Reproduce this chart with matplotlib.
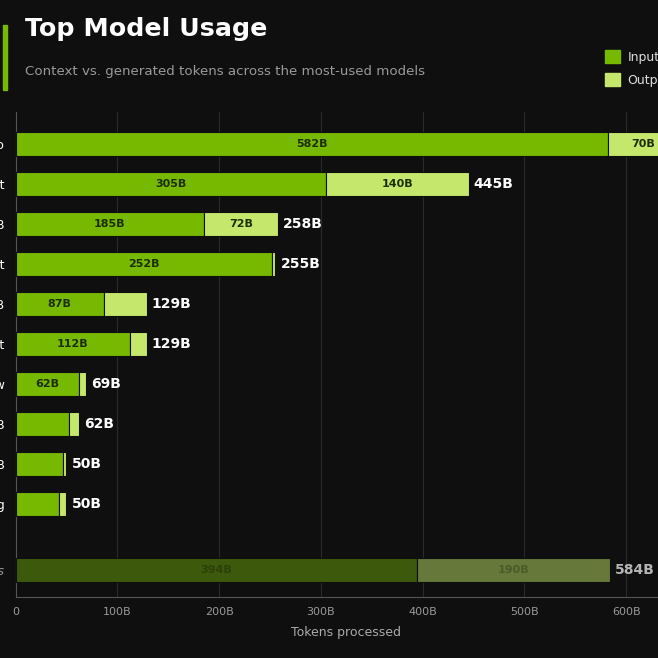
import matplotlib.pyplot as plt
from matplotlib.patches import Patch, Rectangle

# data (billions of tokens)
models = ["GPT-4o", "Claude 3.5 Sonnet", "Llama 3.3 70B", "Claude 3.7 Sonnet",
          "Qwen 2.5 72B", "Llama 3.1 8B Instruct", "Gemini 2.0 Flash Preview",
          "Mixtral 8x22B", "Gemma 2 27B", "Gemini 2.0 Flash Thinking"]
input_tokens = [582, 305, 185.4, 252.4, 87, 112, 62, 53, 46.5, 43]
output_tokens = [70, 140, 72.4, 2.8, 42, 17, 7, 9, 3.5, 7]
others_label = "Others"
others_input = 394
others_output = 190
xticks = [0, 100, 200, 300, 400, 500, 600]

BG = "#0f0f0f"
GREEN = "#76b900"
LIGHT = "#c5e86c"
DIM_GREEN = "#3d5a0c"
DIM_LIGHT = "#66783a"

W, H = 658, 658
fig = plt.figure(figsize=(W / 100, H / 100), dpi=100, facecolor=BG)

# axes extend past the right edge like the reference crop
left, right, top, bottom = 15.5, 677, 112, 597
ax = fig.add_axes([left / W, 1 - bottom / H, (right - left) / W, (bottom - top) / H])
ax.set_facecolor(BG)

ys = list(range(len(models)))
y_others = 10.65
h = 0.6

ax.barh(ys, input_tokens, height=h, color=GREEN, edgecolor=BG, linewidth=0.8, zorder=3)
ax.barh(ys, output_tokens, left=input_tokens, height=h, color=LIGHT, edgecolor=BG,
        linewidth=0.8, zorder=3)
ax.barh([y_others], [others_input], height=h, color=DIM_GREEN, edgecolor=BG, linewidth=0.8, zorder=3)
ax.barh([y_others], [others_output], left=[others_input], height=h, color=DIM_LIGHT,
        edgecolor=BG, linewidth=0.8, zorder=3)

lab_kw = dict(ha="center", va="center", fontsize=8, fontweight="bold", zorder=4)
for y, a, b in zip(ys, input_tokens, output_tokens):
    if a >= 60:
        ax.text(a / 2, y, f"{a:.0f}B", color="#1c2e00", **lab_kw)
    if b >= 60:
        ax.text(a + b / 2, y, f"{b:.0f}B", color="#1c2e00", **lab_kw)
    ax.text(a + b + 5, y, f"{a + b:.0f}B", ha="left", va="center", color="white",
            fontsize=10, fontweight="bold", zorder=4)

ax.text(others_input / 2, y_others, f"{others_input}B", color="#2c4009", **lab_kw)
ax.text(others_input + others_output / 2, y_others, f"{others_output}B", color="#4c5b2a", **lab_kw)
ax.text(others_input + others_output + 5, y_others, f"{others_input + others_output}B",
        ha="left", va="center", color="#b5b5b5", fontsize=10, fontweight="bold", zorder=4)

ax.set_ylim(y_others + 0.675, -0.8)
ax.set_xlim(0, (right - left) / 101.8 * 100)
ax.set_yticks(ys + [y_others])
ax.set_yticklabels(models + [others_label], color="white", fontsize=9)
ax.get_yticklabels()[-1].set_style("italic")
ax.get_yticklabels()[-1].set_color("#999999")
ax.set_xticks(xticks)
ax.set_xticklabels(["0"] + [f"{v}B" for v in xticks[1:]], color="#999999", fontsize=8)
ax.tick_params(length=0, pad=7)
ax.tick_params(axis="y", pad=8)
ax.set_xlabel("Tokens processed", color="#aaaaaa", fontsize=9, labelpad=7)

ax.grid(axis="x", color="#2a2a2a", linewidth=0.8, zorder=0)
for s in ["top", "right"]:
    ax.spines[s].set_visible(False)
for s in ["left", "bottom"]:
    ax.spines[s].set_color("#555555")

# title block
fig.add_artist(Rectangle((3 / W, 1 - 90 / H), 4 / W, 65 / H, transform=fig.transFigure,
                         color=GREEN))
fig.text(25 / W, 1 - 29 / H, "Top Model Usage", color="white", fontsize=18.3,
         fontweight="bold", va="center")
fig.text(25 / W, 1 - 71 / H, "Context vs. generated tokens across the most-used models",
         color="#999999", fontsize=9.6, va="center")

handles = [Patch(color=GREEN), Patch(color=LIGHT)]
fig.legend(handles, ["Input", "Output"], loc="upper left",
           bbox_to_anchor=(594 / W, 1 - 39 / H), frameon=False, fontsize=9,
           labelcolor="#dddddd", handlelength=1.2, handleheight=1.2,
           handletextpad=0.6, labelspacing=0.75)

fig.savefig("out.png", dpi=100, facecolor=BG)
